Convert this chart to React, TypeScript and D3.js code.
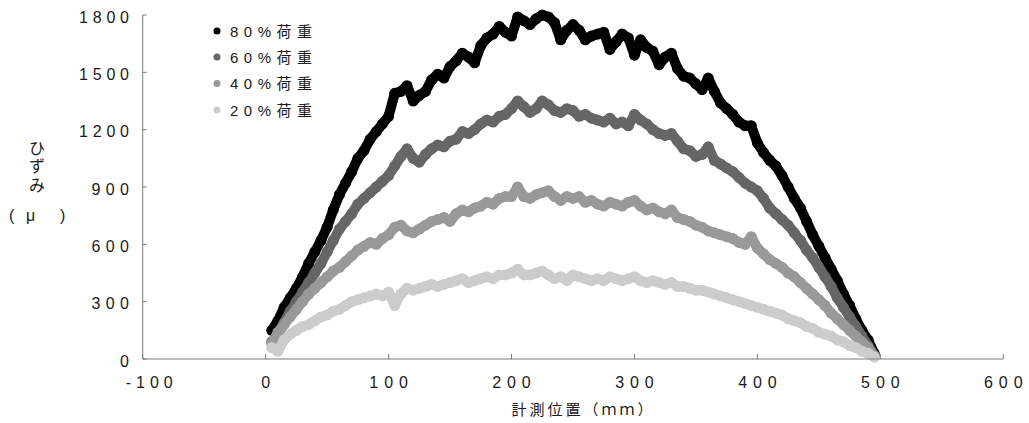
import React from "react";
import * as d3 from "d3";

const positions = [5,10,15,20,25,30,35,40,45,50,55,60,65,70,75,80,85,90,95,100,105,110,115,120,125,130,135,140,145,150,155,160,165,170,175,180,185,190,195,200,205,210,215,220,225,230,235,240,245,250,255,260,265,270,275,280,285,290,295,300,305,310,315,320,325,330,335,340,345,350,355,360,365,370,375,380,385,390,395,400,405,410,415,420,425,430,435,440,445,450,455,460,465,470,475,480,485,490,495];

const load80 = [150,200,270,320,370,430,500,560,620,690,780,860,920,980,1050,1090,1150,1190,1230,1270,1390,1400,1430,1350,1380,1400,1460,1490,1470,1530,1560,1600,1580,1550,1640,1680,1700,1740,1710,1690,1790,1770,1750,1780,1800,1790,1760,1670,1720,1750,1720,1670,1690,1700,1710,1620,1660,1700,1680,1590,1670,1630,1610,1540,1580,1600,1520,1480,1470,1440,1410,1470,1400,1340,1310,1280,1240,1220,1220,1130,1080,1040,1010,960,900,840,790,720,650,590,530,470,410,340,280,210,150,100,30];

const load60 = [90,130,190,250,300,350,400,450,500,560,620,680,720,760,810,840,870,900,930,960,1010,1060,1100,1050,1030,1070,1100,1120,1110,1140,1150,1190,1180,1200,1230,1250,1240,1270,1280,1310,1350,1320,1290,1310,1350,1330,1300,1290,1310,1300,1270,1280,1260,1250,1240,1260,1230,1240,1220,1280,1250,1230,1200,1180,1170,1180,1140,1100,1090,1060,1070,1110,1040,1020,1000,980,950,920,900,880,840,790,760,730,700,660,620,570,530,480,430,380,320,270,220,170,120,70,20];

const load40 = [80,140,180,220,260,300,340,370,400,430,460,480,510,540,570,590,610,600,630,650,690,700,670,660,680,700,720,730,740,720,760,780,770,790,800,820,810,840,850,850,900,850,840,860,870,880,850,830,850,840,850,820,830,810,800,820,810,800,820,830,800,780,790,770,760,780,740,730,720,700,690,670,660,650,640,630,610,600,640,580,550,520,500,480,450,430,400,370,340,310,280,240,210,180,150,120,90,60,15];

const load20 = [60,40,100,130,150,170,180,200,220,230,250,260,280,300,310,320,330,340,330,350,280,340,370,360,370,380,390,380,390,400,410,420,400,410,420,430,420,440,440,450,470,440,440,450,460,440,420,430,410,440,430,420,410,420,410,430,420,410,420,430,410,400,410,400,390,400,380,380,370,360,360,350,340,330,320,310,300,290,280,270,260,250,240,230,210,200,190,170,160,140,130,120,100,90,70,60,40,30,10];

const seriesNames = ["80%荷重", "60%荷重", "40%荷重", "20%荷重"];
const seriesColors = ["#000000", "#666666", "#999999", "#cccccc"];
const seriesValues = [load80, load60, load40, load20];

const xTicks = [-100, 0, 100, 200, 300, 400, 500, 600];
const yTicks = [0, 300, 600, 900, 1200, 1500, 1800];
const yTitleChars = ["ひ", "ず", "み"];
const xTitle = "計測位置（ｍｍ）";

const W = 1029;
const H = 423;
const NUM_FONT = "'Liberation Sans', Arial, 'Noto Sans CJK JP', sans-serif";
const CJK_FONT = "'Liberation Sans', Arial, 'Noto Sans CJK JP', sans-serif";
const TEXT = "#1a1a1a";
const AXIS = "#7a7a7a";

export default function App() {
  const x = d3.scaleLinear().domain([-100, 600]).range([142.7, 1003.3]);
  const y = d3.scaleLinear().domain([0, 1800]).range([359, 15]);
  const line = d3
    .line<[number, number]>()
    .x((d) => x(d[0]))
    .y((d) => y(d[1]));

  const labelLen = (s: string, axis: "x" | "y") => {
    if (s.length <= 1) return undefined;
    if (axis === "y") return s.length === 4 ? 50 : 37.5;
    return s.length === 4 ? 47 : 38.5;
  };

  return (
    <svg
      width={W}
      height={H}
      viewBox={`0 0 ${W} ${H}`}
      style={{ position: "absolute", left: 0, top: 0, background: "#fff" }}
    >
      <rect x={0} y={0} width={W} height={H} fill="#fff" />
      {seriesValues.map((vals, si) => {
        const pts: [number, number][] = positions.map((p, i) => [p, vals[i]]);
        return (
          <g key={si}>
            <path
              d={line(pts) || ""}
              fill="none"
              stroke={seriesColors[si]}
              strokeWidth={10}
              strokeLinejoin="round"
              strokeLinecap="round"
            />
            {pts.map((d, i) => (
              <circle key={i} cx={x(d[0])} cy={y(d[1])} r={5.5} fill={seriesColors[si]} />
            ))}
          </g>
        );
      })}

      <line x1={x(-100)} x2={x(-100)} y1={y(1800)} y2={y(0)} stroke={AXIS} strokeWidth={1} />
      <line x1={x(-100)} x2={x(600)} y1={y(0)} y2={y(0)} stroke={AXIS} strokeWidth={1} />
      {yTicks.map((t) => (
        <g key={`yt${t}`}>
          <line x1={x(-100)} x2={x(-100) + 4} y1={y(t)} y2={y(t)} stroke={AXIS} strokeWidth={1} />
          <text
            x={129}
            y={y(t) + 2}
            textAnchor="end"
            dominantBaseline="central"
            fontFamily={NUM_FONT}
            fontSize={16}
            fill={TEXT}
            textLength={labelLen(String(t), "y")}
            lengthAdjust="spacing"
          >
            {t}
          </text>
        </g>
      ))}
      {xTicks.map((t) => (
        <g key={`xt${t}`}>
          <line x1={x(t)} x2={x(t)} y1={y(0)} y2={y(0) - 5} stroke={AXIS} strokeWidth={1} />
          <text
            x={t < 0 ? x(t) + 6.5 : x(t)}
            y={388}
            textAnchor="middle"
            fontFamily={NUM_FONT}
            fontSize={16}
            fill={TEXT}
            textLength={labelLen(t < 0 ? "-" + Math.abs(t) : String(t), "x")}
            lengthAdjust="spacing"
          >
            {t < 0 ? "-" + Math.abs(t) : String(t)}
          </text>
        </g>
      ))}

      <text
        x={511.5}
        y={409.5}
        dominantBaseline="central"
        fontFamily={CJK_FONT}
        fontSize={15}
        fill={TEXT}
        textLength={141}
        lengthAdjust="spacing"
      >
        {xTitle}
      </text>
      {yTitleChars.map((c, i) => (
        <text
          key={c}
          x={37}
          y={148 + i * 18.5}
          textAnchor="middle"
          dominantBaseline="central"
          fontFamily={CJK_FONT}
          fontSize={16}
          fill={TEXT}
        >
          {c}
        </text>
      ))}
      <text y={215} dominantBaseline="central" fontFamily={CJK_FONT} fontSize={16} fill={TEXT}>
        <tspan x={9}>(</tspan>
        <tspan x={26}>μ</tspan>
        <tspan x={60}>)</tspan>
      </text>

      {seriesNames.map((n, i) => {
        const ly = [31, 57, 83.5, 110][i];
        return (
          <g key={n}>
            <circle cx={217} cy={ly} r={3.5} fill={seriesColors[i]} />
            <text
              x={230}
              y={ly}
              dominantBaseline="central"
              fontFamily={CJK_FONT}
              fontSize={15}
              fill={TEXT}
              textLength={82}
              lengthAdjust="spacing"
            >
              {n}
            </text>
          </g>
        );
      })}
    </svg>
  );
}
